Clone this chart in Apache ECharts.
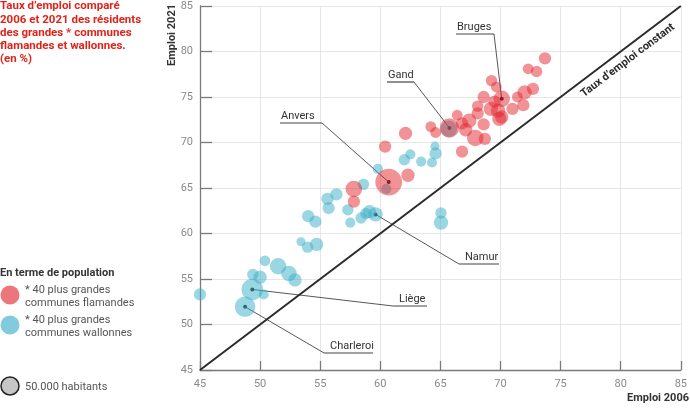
<!DOCTYPE html>
<html>
<head>
<meta charset="utf-8">
<script src="https://cdn.jsdelivr.net/npm/echarts@6/dist/echarts.min.js"></script>
<style>
  html, body { margin: 0; padding: 0; background: #fff; }
  #chart { width: 690px; height: 411px; }
</style>
</head>
<body>
<div id="chart"></div>
<script>
// communes flamandes : emploi 2006, emploi 2021, population (milliers)
var flX = [60.7, 57.8, 57.8, 60.4, 62.1, 62.3, 64.2, 64.6, 65.75, 66.4, 66.8, 67.4, 67.1, 67.9, 68.7, 66.8, 68.6, 68.1,
           68.6, 69.2, 69.8, 70.1, 73.7, 72.3, 73.0, 69.25, 69.65, 70.1, 72.7, 72.0, 71.4, 71.9, 71.0, 69.9, 69.5, 68.1];
var flY = [65.65, 64.9, 63.5, 69.55, 71.0, 66.4, 71.75, 71.1, 71.6, 73.0, 72.1, 72.4, 71.4, 70.5, 70.4, 69.0, 72.0, 73.2,
           75.0, 73.7, 73.5, 72.8, 79.25, 78.1, 77.8, 76.8, 76.1, 74.8, 75.9, 75.5, 75.0, 74.1, 73.7, 72.6, 74.5, 74.0];
var flPop = [104, 40, 22, 22, 26, 26, 17, 17, 55, 17, 22, 30, 26, 40, 22, 22, 22, 22,
             22, 30, 30, 26, 22, 17, 19, 19, 17, 40, 22, 30, 17, 22, 22, 30, 22, 19];

// communes wallonnes
var waX = [45.0, 50.4, 51.5, 52.4, 52.9, 49.4, 50.0, 49.35, 50.3, 48.75, 59.8, 58.6, 56.35, 55.6, 55.7, 57.3, 57.5, 58.4,
           58.8, 59.1, 59.6, 54.0, 54.6, 53.4, 53.95, 54.7, 64.55, 64.6, 62.5, 62.0, 63.4, 64.3, 65.05, 65.05, 60.5, 65.7];
var waY = [53.3, 57.0, 56.4, 55.6, 54.9, 55.5, 55.2, 53.85, 53.3, 51.95, 67.1, 65.4, 64.3, 63.8, 62.8, 62.6, 61.2, 61.7,
           62.2, 62.4, 62.1, 61.9, 61.3, 59.1, 58.5, 58.8, 69.6, 68.8, 68.7, 68.1, 67.9, 67.8, 62.25, 61.2, 64.9, 71.5];
var waPop = [22, 17, 40, 35, 26, 19, 26, 68, 15, 62, 15, 19, 22, 22, 22, 19, 15, 19,
             19, 26, 30, 22, 22, 12, 19, 26, 12, 22, 15, 19, 15, 15, 19, 30, 15, 40];

var xTicks = [45, 85, 5];
var yTicks = [45, 85, 5];

// villes annotées : série, index, position de l'étiquette (px), côté du trait
var notes = [
  { name: 'Bruges',    s: 'fl', i: 27, tx: 456, ty: 27,  w: 38, side: 'right' },
  { name: 'Gand',      s: 'fl', i: 8,  tx: 387, ty: 75,  w: 27, side: 'right' },
  { name: 'Anvers',    s: 'fl', i: 0,  tx: 280, ty: 116, w: 42, side: 'right' },
  { name: 'Namur',     s: 'wa', i: 20, tx: 459, ty: 257, w: 40, side: 'left' },
  { name: 'Liège',     s: 'wa', i: 7,  tx: 393, ty: 299, w: 34, side: 'left' },
  { name: 'Charleroi', s: 'wa', i: 9,  tx: 324, ty: 346, w: 49, side: 'left' }
];

var RED = 'rgba(226,34,44,0.62)';
var BLUE = 'rgba(58,174,200,0.64)';
var FONT = 'Roboto';

function pts(xs, ys, ps) {
  var out = [];
  for (var k = 0; k < xs.length; k++) out.push([xs[k], ys[k], ps[k]]);
  return out;
}
function bubble(v) { return 18.5 * Math.sqrt(v[2] / 50); }

var chart = echarts.init(document.getElementById('chart'));

function axis(tickLen, margin) {
  return {
    type: 'value',
    min: xTicks[0], max: xTicks[1], interval: xTicks[2],
    axisLine: { show: true, lineStyle: { color: '#7a7a7a', width: 1.3 } },
    axisTick: { show: true, inside: true, length: tickLen, lineStyle: { color: '#7a7a7a', width: 1.3 } },
    axisLabel: { color: '#8a8a8a', fontSize: 11, fontFamily: FONT, margin: margin },
    splitLine: { show: true, lineStyle: { color: '#e6e6e6', width: 1 } }
  };
}

var xa = axis(9, 9);
var ya = axis(12, 7);
ya.min = yTicks[0]; ya.max = yTicks[1]; ya.interval = yTicks[2];

var option = {
  animation: false,
  backgroundColor: '#fff',
  grid: { left: 200, right: 6, top: 6, bottom: 41 },
  xAxis: xa,
  yAxis: ya,
  series: [{
    name: 'wallonnes',
    type: 'scatter',
    data: pts(waX, waY, waPop),
    symbolSize: bubble,
    itemStyle: { color: BLUE },
    markLine: {
      silent: true,
      symbol: ['none', 'none'],
      lineStyle: { color: '#2b2b2b', width: 2, type: 'solid' },
      label: {
        show: true,
        position: 'insideEndBottom',
        formatter: 'Taux d\u2019emploi constant',
        color: '#2b2b2b', fontWeight: 'bold', fontSize: 11, fontFamily: FONT,
        distance: [18, 6]
      },
      data: [[{ coord: [xTicks[0], yTicks[0]] }, { coord: [xTicks[1], yTicks[1]] }]]
    }
  }, {
    name: 'flamandes',
    type: 'scatter',
    data: pts(flX, flY, flPop),
    symbolSize: bubble,
    itemStyle: { color: RED }
  }]
};
chart.setOption(option);

var g = [];
function txt(x, y, s, st) {
  g.push({ type: 'text', x: x, y: y, silent: true,
    style: Object.assign({ text: s, fontFamily: FONT, fontSize: 11, fill: '#555' }, st) });
}

// titre
txt(0, 0, 'Taux d\u2019emploi comparé\n2006 et 2021 des résidents\ndes grandes * communes\nflamandes et wallonnes.\n(en %)',
  { fill: '#e2231a', fontWeight: 'bold', fontSize: 11.5, lineHeight: 13.2 });

// titres des axes
g.push({ type: 'text', x: 172, y: 4, rotation: Math.PI / 2, silent: true,
  style: { text: 'Emploi 2021', fontFamily: FONT, fontSize: 11, fontWeight: 'bold', fill: '#333',
           align: 'right', verticalAlign: 'middle' } });
txt(689, 398, 'Emploi 2006', { fill: '#333', fontWeight: 'bold', align: 'right', verticalAlign: 'middle' });

// légende
txt(0, 273, 'En terme de population', { fill: '#333', fontWeight: 'bold', verticalAlign: 'middle' });
g.push({ type: 'circle', shape: { cx: 10, cy: 295, r: 9.5 }, style: { fill: RED }, silent: true });
txt(25, 284, '* 40 plus grandes\ncommunes flamandes', { lineHeight: 13 });
g.push({ type: 'circle', shape: { cx: 10, cy: 325, r: 9.5 }, style: { fill: BLUE }, silent: true });
txt(25, 313.5, '* 40 plus grandes\ncommunes wallonnes', { lineHeight: 13 });
g.push({ type: 'circle', shape: { cx: 10, cy: 386, r: 9 }, style: { fill: '#c6c6c6', stroke: '#222', lineWidth: 1.5 }, silent: true });
txt(25, 387, '50.000 habitants', { verticalAlign: 'middle' });

// annotations
notes.forEach(function (n) {
  var x = n.s === 'fl' ? flX[n.i] : waX[n.i];
  var y = n.s === 'fl' ? flY[n.i] : waY[n.i];
  var p = chart.convertToPixel({ gridIndex: 0 }, [x, y]);
  var uy = n.ty + 7;
  var ex = n.side === 'right' ? n.tx + n.w : n.tx;
  txt(n.tx + (n.side === 'right' ? 1 : 6), n.ty, n.name, { fill: '#333', verticalAlign: 'middle' });
  g.push({ type: 'line', silent: true, shape: { x1: n.tx, y1: uy, x2: n.tx + n.w, y2: uy },
    style: { stroke: '#444', lineWidth: 1.2 } });
  g.push({ type: 'line', silent: true, shape: { x1: ex, y1: uy, x2: p[0], y2: p[1] },
    style: { stroke: '#444', lineWidth: 0.9 } });
  g.push({ type: 'circle', silent: true, shape: { cx: p[0], cy: p[1], r: 2 }, style: { fill: '#222' } });
});

chart.setOption({ graphic: g });
</script>
</body>
</html>
